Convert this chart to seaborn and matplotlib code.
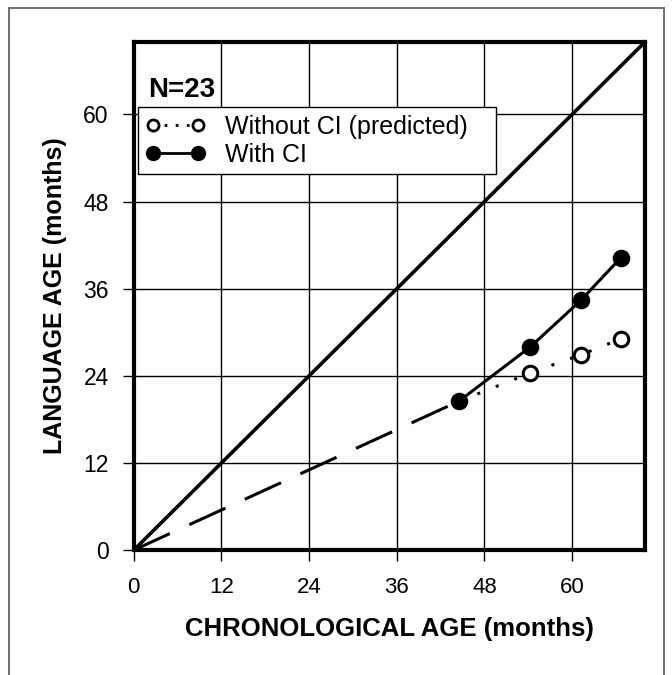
import matplotlib
matplotlib.use("Agg")
import matplotlib.pyplot as plt
from matplotlib.lines import Line2D
from matplotlib.patches import Rectangle
import seaborn as sns
import pandas as pd

sns.set_style("white", {'text.color': 'black', 'axes.labelcolor': 'black',
                        'xtick.color': 'black', 'ytick.color': 'black'})
plt.rcParams['font.family'] = ['Liberation Sans', 'DejaVu Sans']

# data (months)
ca_with = [44.5, 54.3, 61.2, 66.7]
la_with = [20.5, 28.0, 34.4, 40.3]
ca_without = [44.5, 54.3, 61.2, 66.7]
la_without = [20.5, 24.4, 26.9, 29.1]
ca_extrap = [0, 44.5]
la_extrap = [0, 20.5]
ca_identity = [0, 70]
la_identity = [0, 70]
ticks = [0, 12, 24, 36, 48, 60]

fig = plt.figure(figsize=(6.72, 6.75), dpi=100)
ax = fig.add_axes([0.199, 0.185, 0.761, 0.753])

# outer frame of the figure
fig.patches.append(Rectangle((0.0128, -0.05), 0.9746, 1.0386, transform=fig.transFigure,
                             fill=False, edgecolor='#707070', linewidth=1.4))

ax.grid(True, color='black', linewidth=1.0)
ax.set_axisbelow(True)

sns.lineplot(x=ca_identity, y=la_identity, ax=ax, color='black', linewidth=2.6)
sns.lineplot(x=ca_extrap, y=la_extrap, ax=ax, color='black', linewidth=2.2,
             dashes=False).lines[-1].set_dashes((13, 7))
sns.lineplot(x=ca_without, y=la_without, ax=ax, color='black', linewidth=2.2,
             linestyle=(0, (1, 5.5)))
sns.lineplot(x=ca_with, y=la_with, ax=ax, color='black', linewidth=2.2)

open_df = pd.DataFrame({'ca': ca_without[1:], 'la': la_without[1:]})
filled_df = pd.DataFrame({'ca': ca_with, 'la': la_with})
sns.scatterplot(data=open_df, x='ca', y='la', ax=ax, s=110, facecolor='white',
                edgecolor='black', linewidth=2.2, zorder=5)
sns.scatterplot(data=filled_df, x='ca', y='la', ax=ax, s=160, color='black',
                edgecolor='black', linewidth=0, zorder=6)

ax.set_xlim(0, 70)
ax.set_ylim(0, 70)
ax.set_xticks(ticks)
ax.set_yticks(ticks)
ax.tick_params(axis='x', labelsize=16, length=8, width=1, pad=11, direction='out',
               bottom=True, colors='black')
ax.tick_params(axis='y', labelsize=16.5, length=8, width=1, pad=10, direction='out',
               left=True, colors='black')
for s in ax.spines.values():
    s.set_linewidth(3)
    s.set_color('black')

ax.set_xlabel('CHRONOLOGICAL AGE (months)', fontsize=18.5, fontweight='bold',
              labelpad=14, color='black')
ax.set_ylabel('LANGUAGE AGE (months)', fontsize=18, fontweight='bold',
              labelpad=12, color='black')

ax.text(0.028, 0.906, 'N=23', transform=ax.transAxes, fontsize=20, fontweight='bold',
        ha='left', va='center', color='black', zorder=10)

handles = [
    Line2D([], [], color='black', linestyle=(0, (1, 3)), linewidth=2, marker='o',
           markersize=8, markerfacecolor='white', markeredgewidth=2),
    Line2D([], [], color='black', linestyle='-', linewidth=2, marker='o',
           markersize=10, markerfacecolor='black'),
]
leg_w = 0.70
leg_h = 0.13
leg = ax.legend(handles, ['Without CI (predicted)', 'With CI'], loc='upper left',
                bbox_to_anchor=(0.008, 0.871 - leg_h, leg_w, leg_h), mode='expand',
                numpoints=2, fontsize=18, frameon=True, fancybox=False,
                framealpha=1, edgecolor='black', borderpad=0.3, labelspacing=0.15,
                handlelength=2.4, handletextpad=0.78, borderaxespad=0)
leg.get_frame().set_linewidth(1.0)
for t in leg.get_texts():
    t.set_color('black')
leg.set_zorder(9)

fig.savefig('out.png', dpi=100)
